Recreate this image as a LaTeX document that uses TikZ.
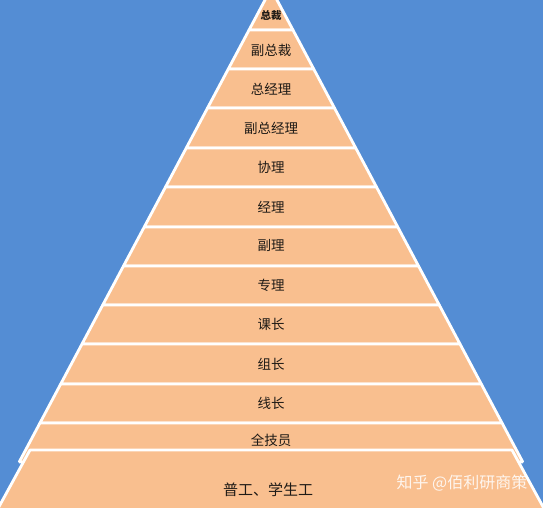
\documentclass[tikz,border=0pt]{standalone}
\usepackage{fontspec}
\newfontfamily\cjk{Noto Sans CJK SC}
\definecolor{bgblue}{HTML}{548DD4}
\definecolor{peach}{HTML}{F9BF8F}
\definecolor{txt}{HTML}{1E1A16}
\tikzset{
  band/.style={fill=peach, draw=white, line width=2.8pt, line join=bevel},
  lbl/.style={font=\cjk\fontsize{13.5}{13.5}\selectfont, text=txt, inner sep=0pt},
}
\begin{document}
\begin{tikzpicture}[x=1pt,y=-1pt]
\useasboundingbox (0,0) rectangle (543,508);
\clip (0,0) rectangle (543,508);
\fill[bgblue] (0,0) rectangle (543,508);
\foreach \a/\b in {-11/30,30/69,69/108,108/148,148/187,187/227,227/266,266/305,305/344,344/384,384/423,423/462}{
  \pgfmathsetmacro\wa{max(0,6+0.532*\a)}
  \pgfmathsetmacro\wb{6+0.532*\b}
  \draw[band] ({271-\wa},\a) -- ({271+\wa},\a) -- ({271+\wb},\b) -- ({271-\wb},\b) -- cycle;
}
\draw[band] (30,450) -- (512,450) -- (547,514) -- (-5,514) -- cycle;
\node[lbl, font=\cjk\bfseries\fontsize{10.5}{10.5}\selectfont] (l1) at (271,15) {总裁};
\foreach \y/\t [count=\i from 2] in {50/副总裁,89/总经理,128/副总经理,167/协理,207/经理,246/副理,285/专理,324/课长,364/组长,403/线长,440/全技员}{
  \node[lbl] (l\i) at (271,\y) {\t};
}
\node[lbl, font=\cjk\fontsize{15}{15}\selectfont] (l13) at (268,490) {普工、学生工};
\node[font=\cjk\fontsize{16}{16}\selectfont, text=white, text opacity=0.85, inner sep=0pt] (wm) at (462,483) {知乎 @佰利研商策};
\end{tikzpicture}
\end{document}
